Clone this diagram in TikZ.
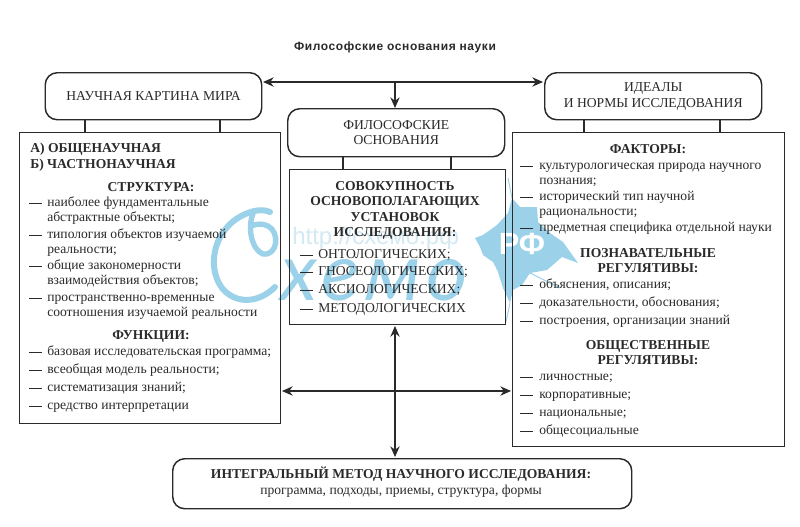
\documentclass[tikz,border=0pt]{standalone}
\usepackage{fontspec}
\setmainfont{Liberation Serif}
\newfontfamily\headfont{Liberation Sans}
\newfontfamily\wmfont{Lato}
\usetikzlibrary{arrows.meta}
\definecolor{ink}{HTML}{2A2A2A}
\definecolor{wm}{HTML}{9BD2E9}
\definecolor{wmlight}{HTML}{D3E9F3}
\tikzset{
  x=0.75pt,y=-0.75pt,
  rbox/.style={draw=ink,line width=1.1pt,rounded corners=9pt,inner sep=0pt},
  sbox/.style={draw=ink,line width=1.1pt,inner sep=0pt},
  link/.style={draw=ink,line width=0.9pt},
  arr/.style={draw=ink,line width=0.9pt,-{Stealth[length=8pt,width=7pt]}},
  darr/.style={draw=ink,line width=0.9pt,{Stealth[length=8pt,width=7pt]}-{Stealth[length=8pt,width=7pt]}},
  itemt/.style={anchor=base west,inner sep=0pt,text=ink,font=\fontsize{10.2}{12}\selectfont},
  head/.style={anchor=base,inner sep=0pt,text=ink,font=\fontsize{10.2}{12}\selectfont\bfseries},
  boxt/.style={anchor=center,inner sep=0pt,text=ink,align=center,font=\fontsize{10.2}{11.6}\selectfont},
  dashm/.style={draw=ink,line width=0.7pt},
}
\newcommand{\boxat}[6][]{\node[#2,minimum width=#5*0.75pt-#3*0.75pt,minimum height=#6*0.75pt-#4*0.75pt,anchor=north west] (#1) at (#3,#4) {};}
\newcommand{\itm}[5]{% name, dash x, text x, y, text
  \node[itemt] (#1) at (#3,#4+3.5) {#5};
  \draw[dashm] (#2,#4) -- ++(13,0);}
\begin{document}
\begin{tikzpicture}
\useasboundingbox (0,0) rectangle (800,526);
\fill[white] (0,0) rectangle (800,526);
% watermark
\fill[wm,line join=round] (475,238) -- (483,235) -- (497,225) -- (508,213) -- (512,198) -- (520,207)
  -- (537,207) -- (538,222) -- (550,233) -- (563,242) -- (578,263) -- (562,257) -- (547,270)
  -- (530,273) -- (522,285) -- (513,290) -- (510,303) -- (503,288) -- (498,272) -- (493,262)
  -- (483,255) -- (480,247) -- cycle;
\draw[wm,line width=0.7pt] (512,198) -- (508,178) (530,273) -- (560,288) (510,303) -- (506,322);
\node[inner sep=0pt,text=white,font=\headfont\bfseries\fontsize{23}{24}\selectfont] (wmrf) at (522,244) {РФ};
\draw[wm,line width=4.5pt,line cap=round]
  (275,287) .. controls (258,304) and (235,304) .. (222,288)
  .. controls (205,265) and (215,225) .. (248,213)
  .. controls (258,209) and (266,210) .. (270,212);
\draw[wm,line width=4pt,line cap=round]
  (253,214) .. controls (247,228) and (252,250) .. (263,254)
  .. controls (278,256) and (280,232) .. (268,226)
  .. controls (262,223) and (256,224) .. (251,226);
\node[anchor=base west,inner sep=0pt,text=wm,font=\wmfont\itshape\fontsize{60}{62}\selectfont\addfontfeatures{LetterSpace=7}] (wmname) at (280,300) {хемо};
\node[anchor=west,inner sep=0pt,text=wmlight,font=\headfont\fontsize{18}{20}\selectfont] (wmurl) at (292,238) {http://схемо.рф};
% title
\node[inner sep=0pt,text=ink,font=\headfont\bfseries\fontsize{9}{11}\selectfont\addfontfeatures{LetterSpace=4.8}] (title) at (395,47) {Философские основания науки};
% boxes
\boxat[nk]{rbox}{44.5}{72}{261}{119}
\boxat[ni]{rbox}{544}{72}{761}{119}
\boxat[fo]{rbox}{287}{108}{504}{156}
\boxat[im]{rbox}{172}{458}{631}{508}
\boxat[lb]{sbox}{19}{132}{279.5}{423}
\boxat[rb]{sbox}{512}{132}{784}{446}
\boxat[mb]{sbox}{288.5}{169}{505}{324}
\node[boxt] (nkt) at (nk.center) {НАУЧНАЯ КАРТИНА МИРА};
\node[boxt] (nit) at (ni.center) {ИДЕАЛЫ\\И НОРМЫ ИССЛЕДОВАНИЯ};
\node[boxt] (fot) at (fo.center) {ФИЛОСОФСКИЕ\\ОСНОВАНИЯ};
\node[head] (imt1) at (401,478) {ИНТЕГРАЛЬНЫЙ МЕТОД НАУЧНОГО ИССЛЕДОВАНИЯ:};
\node[itemt,anchor=base] (imt2) at (401,494.5) {программа, подходы, приемы, структура, формы};
% connectors
\coordinate (hl) at (263,82);
\coordinate (hr) at (543,82);
\coordinate (hm) at (395,82);
\draw[darr] (hl) -- (hr);
\draw[arr] (hm) -- (fo.north -| hm);
\coordinate (vt) at (395,326);
\coordinate (vb) at (395,457);
\coordinate (ml) at (282,391);
\coordinate (mr) at (511,391);
\draw[darr] (vt) -- (vb);
\draw[darr] (ml) -- (mr);
\foreach \x in {85,220} \draw[link] (\x,119) -- (\x,132);
\foreach \x in {584,720} \draw[link] (\x,119) -- (\x,132);
\foreach \x in {343,451} \draw[link] (\x,156) -- (\x,169);
% left text
\node[head,anchor=base west] (la) at (30,152) {А) ОБЩЕНАУЧНАЯ};
\node[head,anchor=base west] (lb2) at (30,168) {Б) ЧАСТНОНАУЧНАЯ};
\node[head] (ls) at (151,191) {СТРУКТУРА:};
\itm{l1}{29}{47}{203}{наиболее фундаментальные}
\node[itemt] (l1b) at (47,221.5) {абстрактные объекты;};
\itm{l2}{29}{47}{235}{типология объектов изучаемой}
\node[itemt] (l2b) at (47,253.5) {реальности;};
\itm{l3}{29}{47}{266}{общие закономерности}
\node[itemt] (l3b) at (47,284.5) {взаимодействия объектов;};
\itm{l4}{29}{47}{298}{пространственно-временные}
\node[itemt] (l4b) at (47,316) {соотношения изучаемой реальности};
\node[head] (lf) at (151,339) {ФУНКЦИИ:};
\itm{f1}{29}{47}{352}{базовая исследовательская программа;}
\itm{f2}{29}{47}{370}{всеобщая модель реальности;}
\itm{f3}{29}{47}{388}{систематизация знаний;}
\itm{f4}{29}{47}{406}{средство интерпретации}
% middle text
\node[head] (m1) at (395,190) {СОВОКУПНОСТЬ};
\node[head] (m2) at (395,205) {ОСНОВОПОЛАГАЮЩИХ};
\node[head] (m3) at (395,221) {УСТАНОВОК};
\node[head] (m4) at (395,236) {ИССЛЕДОВАНИЯ:};
\itm{o1}{300}{318}{255}{ОНТОЛОГИЧЕСКИХ;}
\itm{o2}{300}{318}{272}{ГНОСЕОЛОГИЧЕСКИХ;}
\itm{o3}{300}{318}{290}{АКСИОЛОГИЧЕСКИХ;}
\itm{o4}{300}{318}{309}{МЕТОДОЛОГИЧЕСКИХ}
% right text
\node[head] (rf) at (648,153) {ФАКТОРЫ:};
\itm{r1}{520}{539}{166}{культурологическая природа научного}
\node[itemt] (r1b) at (539,184.5) {познания;};
\itm{r2}{520}{539}{197}{исторический тип научной}
\node[itemt] (r2b) at (539,215.5) {рациональности;};
\itm{r3}{520}{539}{228}{предметная специфика отдельной науки}
\node[head] (rp1) at (648,257) {ПОЗНАВАТЕЛЬНЫЕ};
\node[head] (rp2) at (648,272) {РЕГУЛЯТИВЫ:};
\itm{p1}{520}{539}{285}{объяснения, описания;}
\itm{p2}{520}{539}{303}{доказательности, обоснования;}
\itm{p3}{520}{539}{321}{построения, организации знаний}
\node[head] (ro1) at (648,349) {ОБЩЕСТВЕННЫЕ};
\node[head] (ro2) at (648,364) {РЕГУЛЯТИВЫ:};
\itm{s1}{520}{539}{377}{личностные;}
\itm{s2}{520}{539}{395}{корпоративные;}
\itm{s3}{520}{539}{413}{национальные;}
\itm{s4}{520}{539}{431}{общесоциальные}
\end{tikzpicture}
\end{document}
